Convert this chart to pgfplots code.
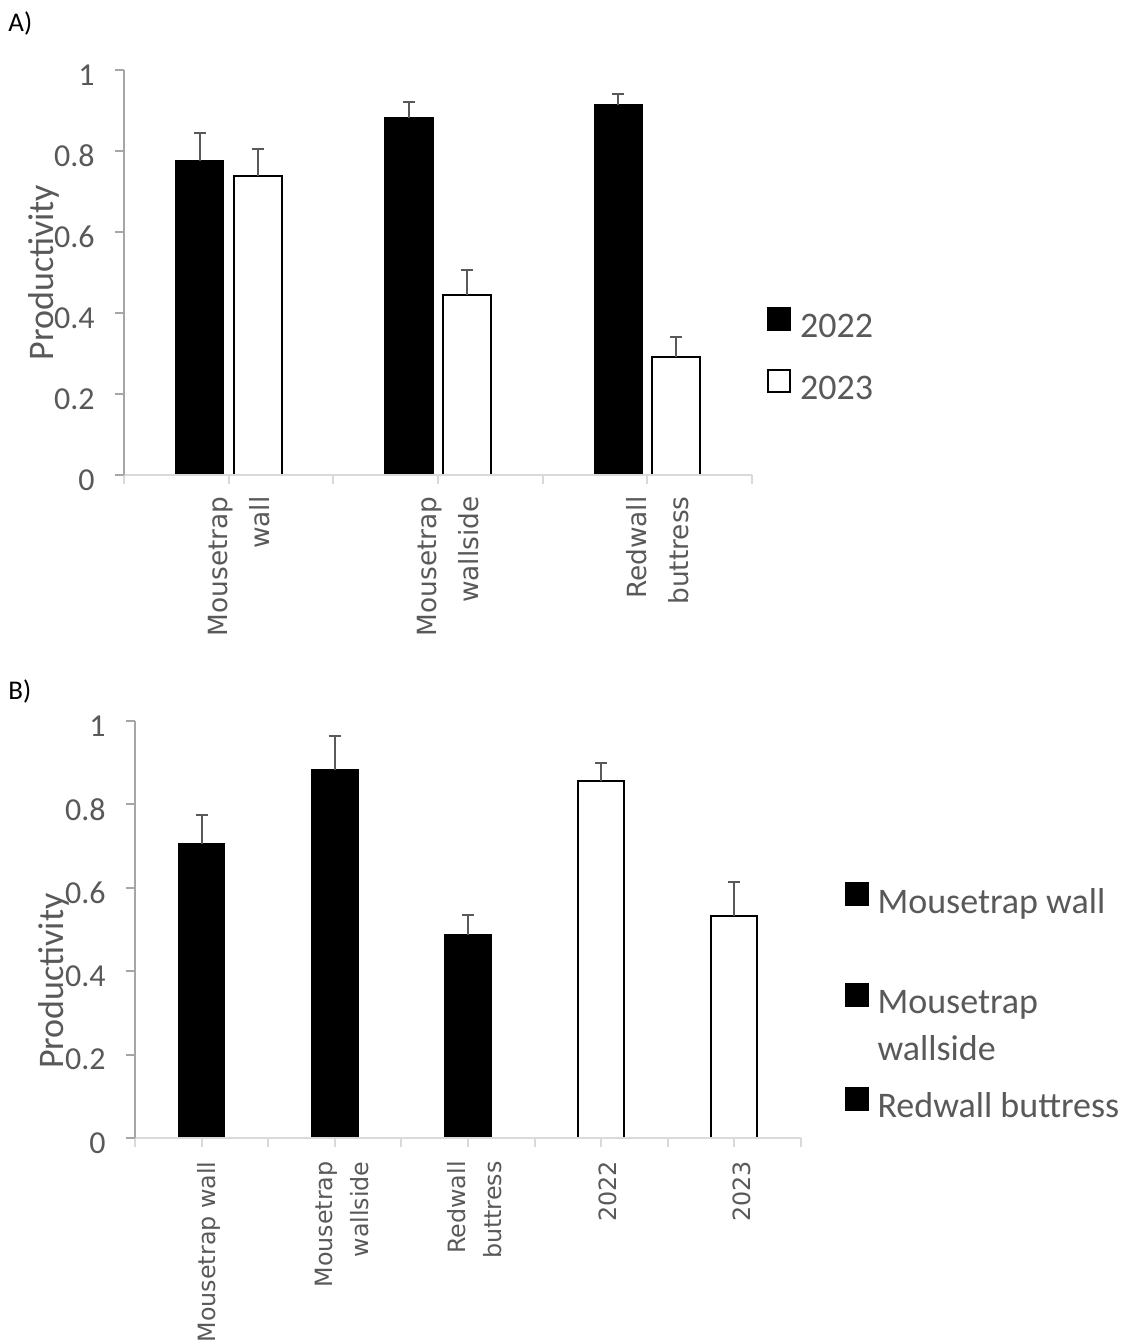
\documentclass[border=0pt]{standalone}
\usepackage{fontspec}
\setmainfont{Carlito}
\newfontfamily\catfont{DejaVu Sans}
\usepackage{pgfplots}
\pgfplotsset{compat=1.18}

\definecolor{txt}{HTML}{595959}
\definecolor{yaxiscol}{HTML}{A6A6A6}
\definecolor{xaxiscol}{HTML}{D9D9D9}

\pgfplotsset{
  prod/.style={
    scale only axis, axis on top, clip=false,
    ymin=0, ymax=1,
    ytick={0,0.2,0.4,0.6,0.8,1},
    yticklabels={0,0.2,0.4,0.6,0.8,1},
    axis x line*=bottom, axis y line*=left,
    x axis line style={draw=xaxiscol, line width=1pt},
    y axis line style={draw=yaxiscol, line width=1pt},
    ytick style={draw=yaxiscol, line width=1pt},
    xtick style={draw=xaxiscol, line width=1pt},
    tick align=outside, major tick length=4.5pt,
    xticklabels={},
    yticklabel style={font=\fontsize{16}{19}\selectfont, text=txt, anchor=east, inner sep=0pt, yshift=-2.5pt},
    ylabel=Productivity,
    ylabel style={font=\fontsize{18}{21}\selectfont, text=txt, anchor=base, inner sep=0pt},
    extra x tick style={tick style={draw=none}},
    legend style={draw=none, fill=none, inner sep=0pt, outer sep=0pt,
      cells={anchor=base west}, nodes={inner sep=0pt, text depth=},
      column sep=4.5pt, font=\fontsize{18}{23.5}\selectfont, text=txt},
  },
  err/.style={error bars/y dir=plus, error bars/y explicit,
    error bars/error bar style={draw=txt, line width=1pt},
    error bars/error mark options={draw=txt, line width=1pt, mark size=3pt, rotate=90}},
  blackkey/.style={legend image code/.code={\draw[fill=black,draw=black,line width=0.8pt] (0pt,4pt) rectangle (11pt,15pt);}},
  whitekey/.style={legend image code/.code={\draw[fill=white,draw=black,line width=1pt] (0pt,4pt) rectangle (11pt,15pt);}},
}

\begin{document}
\begin{tikzpicture}
\useasboundingbox (0,0) rectangle (565pt,672pt);

\node[anchor=base west, inner sep=0pt, font=\fontsize{13.5}{16}\selectfont] at (4pt,656pt) {A)};
\node[anchor=base west, inner sep=0pt, font=\fontsize{13.5}{16}\selectfont] at (4pt,322pt) {B)};

% Panel A: productivity by site, two years side by side
\begin{axis}[prod,
  at={(62pt,434.5pt)}, anchor=south west,
  width=314pt, height=202.5pt,
  xmin=-0.5, xmax=2.5,
  ybar=5pt, bar width=24pt,
  xtick={-0.5,0.5,1.5,2.5},
  extra x ticks={0,1,2},
  extra x tick labels={{Mousetrap\\wall},{Mousetrap\\wallside},{Redwall\\buttress}},
  xticklabel style={xshift=5pt, font=\catfont\fontsize{13.2}{21}\selectfont, text=txt, rotate=90, anchor=east, align=right, inner sep=0pt},
  xticklabel shift=6pt,
  yticklabel shift=10pt,
  ylabel style={at={(axis description cs:-0.113,0.5)}},
  legend style={at={(axis description cs:1.0239,0.4173)}, anchor=north west},
]
\addplot[fill=black, draw=black, line width=0.8pt, blackkey, err] coordinates {
  (0,0.776) +- (0,0.068)
  (1,0.882) +- (0,0.038)
  (2,0.914) +- (0,0.027)
};
\addlegendentry{2022\rule[-15pt]{0pt}{31pt}}
\addplot[fill=white, draw=black, line width=1pt, whitekey, err] coordinates {
  (0,0.738) +- (0,0.066)
  (1,0.444) +- (0,0.061)
  (2,0.291) +- (0,0.049)
};
\addlegendentry{2023\rule{0pt}{16pt}}
\end{axis}

% Panel B: pooled by site and by year
\begin{axis}[prod,
  at={(67.5pt,103pt)}, anchor=south west,
  width=333pt, height=208.5pt,
  xmin=-0.5, xmax=4.5,
  ybar, bar width=23pt, bar shift=0pt,
  xtick={-0.5,0.5,1.5,2.5,3.5,4.5},
  extra x ticks={0,1,2,3,4},
  extra x tick labels={{Mousetrap wall},{Mousetrap\\wallside},{Redwall\\buttress},{2022},{2023}},
  xticklabel style={xshift=3.5pt, font=\catfont\fontsize{11.9}{18}\selectfont, text=txt, rotate=90, anchor=east, align=right, inner sep=0pt},
  xticklabel shift=7pt,
  yticklabel shift=10pt,
  ylabel style={at={(axis description cs:-0.108,0.376)}},
  legend style={at={(axis description cs:1.066,0.6163)}, anchor=north west},
]
\addplot[fill=black, draw=black, line width=0.8pt, err, forget plot] coordinates {
  (0,0.705) +- (0,0.070)
  (1,0.883) +- (0,0.080)
  (2,0.488) +- (0,0.047)
};
\addplot[fill=white, draw=black, line width=1pt, err, forget plot] coordinates {
  (3,0.855) +- (0,0.044)
  (4,0.533) +- (0,0.080)
};
\addlegendimage{blackkey}
\addlegendentry{Mousetrap wall\rule[-34pt]{0pt}{50pt}}
\addlegendimage{blackkey}
\addlegendentry{\begin{tabular}[t]{@{}l@{}}Mousetrap\\wallside\end{tabular}\rule[-36pt]{0pt}{52pt}}
\addlegendimage{blackkey}
\addlegendentry{Redwall buttress\rule{0pt}{16pt}}
\end{axis}
\end{tikzpicture}
\end{document}
